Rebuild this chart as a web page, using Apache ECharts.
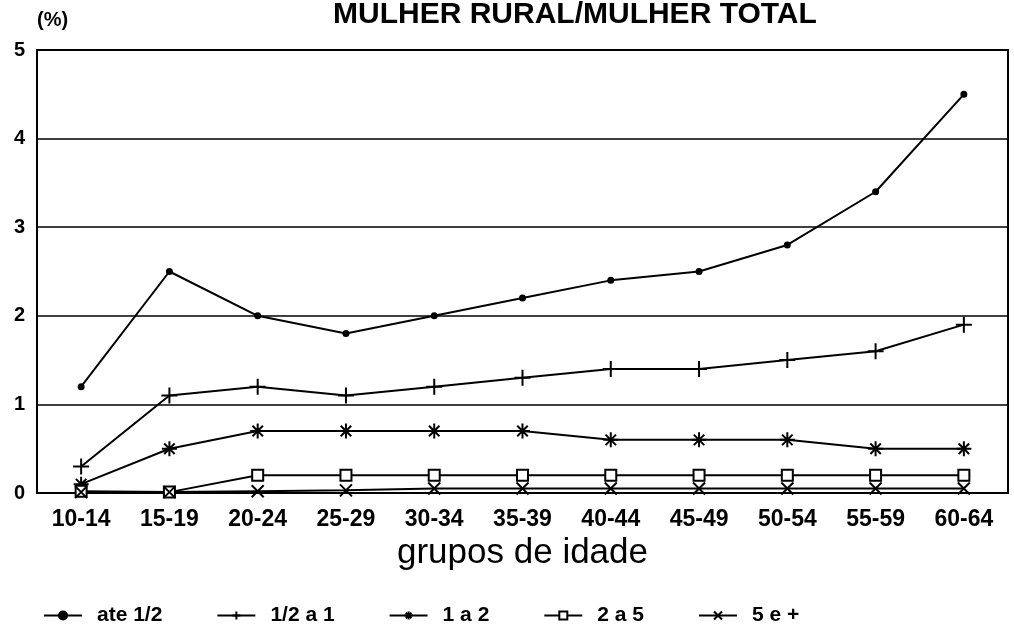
<!DOCTYPE html>
<html>
<head>
<meta charset="utf-8">
<script src="https://cdn.jsdelivr.net/npm/echarts@6/dist/echarts.min.js"></script>
<style>
  html, body { margin: 0; padding: 0; background: #fff; }
  #chart { width: 1014px; height: 641px; }
</style>
</head>
<body>
<div id="chart"></div>
<script>
const ageGroups = ['10-14', '15-19', '20-24', '25-29', '30-34', '35-39', '40-44', '45-49', '50-54', '55-59', '60-64']
const ateMeio = [1.2, 2.5, 2.0, 1.8, 2.0, 2.2, 2.4, 2.5, 2.8, 3.4, 4.5]
const meioAUm = [0.3, 1.1, 1.2, 1.1, 1.2, 1.3, 1.4, 1.4, 1.5, 1.6, 1.9]
const umADois = [0.1, 0.5, 0.7, 0.7, 0.7, 0.7, 0.6, 0.6, 0.6, 0.5, 0.5]
const doisACinco = [0.02, 0.01, 0.2, 0.2, 0.2, 0.2, 0.2, 0.2, 0.2, 0.2, 0.2]
const cincoMais = [0.01, 0.01, 0.02, 0.03, 0.05, 0.05, 0.05, 0.05, 0.05, 0.05, 0.05]

const font = '"Liberation Sans", Arial, sans-serif'

// marcadores desenhados como traços
const plusPath = 'path://M0,5L10,5M5,0L5,10'
const starPath = 'path://M0,5L10,5M5,0L5,10M1.5,1.5L8.5,8.5M8.5,1.5L1.5,8.5'
const crossPath = 'path://M0,0L10,10M10,0L0,10'

const makeSeries = (name, data, symbol, size, fill) => ({
  name,
  type: 'line',
  data,
  symbol,
  symbolSize: size,
  showAllSymbol: true,
  lineStyle: { color: '#000', width: 2 },
  itemStyle: { color: fill, borderColor: '#000', borderWidth: 2 },
  emphasis: { disabled: true },
  z: 3
})

const chart = echarts.init(document.getElementById('chart'))
chart.setOption({
  animation: false,
  backgroundColor: '#fff',
  title: {
    text: 'MULHER RURAL/MULHER TOTAL',
    left: 328,
    top: -5,
    textStyle: { fontFamily: font, fontSize: 30, fontWeight: 'bold', color: '#000' }
  },
  grid: { left: 37, right: 6, top: 50, bottom: 148 },
  legend: {
    bottom: 10,
    left: 38,
    itemGap: 54,
    itemWidth: 38,
    itemHeight: 10,
    textStyle: { fontFamily: font, fontSize: 21, fontWeight: 'bold', color: '#000', padding: [0, 0, 0, 10] },
    data: ['ate 1/2', '1/2 a 1', '1 a 2', '2 a 5', '5 e +']
  },
  xAxis: {
    type: 'category',
    data: ageGroups,
    name: 'grupos de idade',
    nameLocation: 'middle',
    nameGap: 37,
    nameTextStyle: { fontFamily: font, fontSize: 35, color: '#000' },
    axisLine: { lineStyle: { color: '#000', width: 2 } },
    axisTick: { show: false },
    axisLabel: { fontFamily: font, fontSize: 23, fontWeight: 'bold', color: '#000', margin: 15 },
    splitLine: { show: false }
  },
  yAxis: {
    type: 'value',
    min: 0,
    max: 5,
    interval: 1,
    name: '(%)',
    nameGap: 20,
    nameTextStyle: { fontFamily: font, fontSize: 20, fontWeight: 'bold', color: '#000', align: 'left' },
    axisLine: { show: true, lineStyle: { color: '#000', width: 2 } },
    axisTick: { show: false },
    axisLabel: { fontFamily: font, fontSize: 20, fontWeight: 'bold', color: '#000', margin: 12 },
    splitLine: { lineStyle: { color: '#000', width: 1.5 } }
  },
  graphic: [{
    type: 'rect',
    shape: { x: 37, y: 50, width: 971, height: 443 },
    style: { fill: 'none', stroke: '#000', lineWidth: 2 },
    silent: true
  }],
  series: [
    makeSeries('ate 1/2', ateMeio, 'circle', 5, '#000'),
    makeSeries('1/2 a 1', meioAUm, plusPath, 16, '#000'),
    makeSeries('1 a 2', umADois, starPath, 15, '#000'),
    makeSeries('2 a 5', doisACinco, 'rect', 11, '#fff'),
    makeSeries('5 e +', cincoMais, crossPath, 12, '#000')
  ]
})
</script>
</body>
</html>
